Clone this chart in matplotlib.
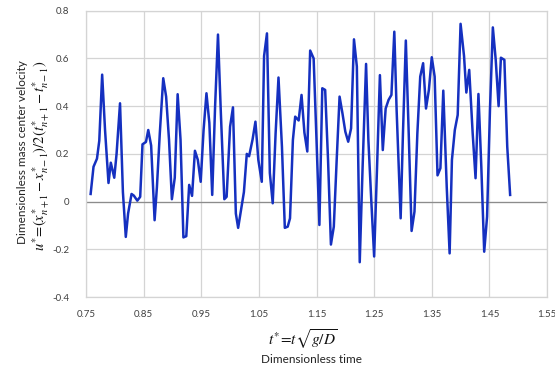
import matplotlib
matplotlib.use('Agg')
import matplotlib.pyplot as plt

plt.rcParams['font.family'] = ['Lato', 'DejaVu Sans']
plt.rcParams['mathtext.fontset'] = 'stix'

# dimensionless time t* and mass-center velocity u*
t_star = [0.758, 0.763, 0.769, 0.773, 0.778, 0.783, 0.789, 0.793, 0.799, 0.803,
          0.809, 0.814, 0.819, 0.823, 0.829, 0.833, 0.839, 0.844, 0.848, 0.854,
          0.858, 0.863, 0.869, 0.873, 0.878, 0.884, 0.889, 0.894, 0.899, 0.904,
          0.909, 0.914, 0.919, 0.924, 0.929, 0.934, 0.939, 0.944, 0.949, 0.954,
          0.959, 0.964, 0.969, 0.974, 0.979, 0.984, 0.990, 0.994, 1.000, 1.005,
          1.010, 1.014, 1.019, 1.024, 1.029, 1.033, 1.039, 1.044, 1.049, 1.055,
          1.059, 1.064, 1.069, 1.074, 1.079, 1.084, 1.090, 1.095, 1.100, 1.104,
          1.109, 1.113, 1.119, 1.124, 1.129, 1.134, 1.139, 1.145, 1.150, 1.155,
          1.160, 1.165, 1.170, 1.175, 1.180, 1.185, 1.190, 1.195, 1.200, 1.205,
          1.210, 1.215, 1.220, 1.225, 1.230, 1.236, 1.240, 1.245, 1.250, 1.255,
          1.260, 1.265, 1.270, 1.275, 1.280, 1.285, 1.289, 1.296, 1.300, 1.305,
          1.310, 1.315, 1.320, 1.325, 1.330, 1.335, 1.340, 1.345, 1.350, 1.355,
          1.360, 1.365, 1.370, 1.376, 1.381, 1.385, 1.390, 1.395, 1.400, 1.406,
          1.410, 1.415, 1.421, 1.426, 1.431, 1.436, 1.441, 1.446, 1.451, 1.456,
          1.461, 1.466, 1.470, 1.476, 1.481, 1.486]
u_star = [0.032, 0.146, 0.180, 0.255, 0.532, 0.300, 0.078, 0.163, 0.100, 0.200,
          0.412, 0.040, -0.148, -0.050, 0.032, 0.025, 0.004, 0.020, 0.240, 0.250,
          0.300, 0.235, -0.078, 0.060, 0.285, 0.517, 0.440, 0.260, 0.010, 0.100,
          0.450, 0.260, -0.150, -0.145, 0.070, 0.024, 0.213, 0.175, 0.083, 0.300,
          0.454, 0.330, 0.028, 0.400, 0.700, 0.370, 0.010, 0.020, 0.314, 0.395,
          -0.050, -0.110, -0.035, 0.040, 0.200, 0.190, 0.260, 0.335, 0.175, 0.083,
          0.610, 0.705, 0.120, -0.007, 0.286, 0.520, 0.230, -0.110, -0.105, -0.070,
          0.258, 0.356, 0.340, 0.447, 0.289, 0.210, 0.633, 0.600, 0.258, -0.098,
          0.475, 0.468, 0.175, -0.180, -0.105, 0.175, 0.440, 0.370, 0.293, 0.251,
          0.307, 0.680, 0.566, -0.254, 0.146, 0.577, 0.258, 0.007, -0.230, 0.140,
          0.530, 0.216, 0.390, 0.426, 0.447, 0.712, 0.384, -0.070, 0.286, 0.675,
          0.286, -0.123, -0.042, 0.286, 0.524, 0.580, 0.390, 0.468, 0.605, 0.524,
          0.110, 0.140, 0.465, 0.060, -0.217, 0.175, 0.300, 0.363, 0.745, 0.610,
          0.457, 0.552, 0.286, 0.098, 0.451, 0.146, -0.210, -0.063, 0.384, 0.730,
          0.594, 0.400, 0.603, 0.594, 0.230, 0.028]

x_ticks = [0.75, 0.85, 0.95, 1.05, 1.15, 1.25, 1.35, 1.45, 1.55]
y_ticks = [-0.4, -0.2, 0, 0.2, 0.4, 0.6, 0.8]
y_labels = ['-0.4', '-0.2', '0', '0.2', '0.4', '0.6', '0.8']

fig = plt.figure(figsize=(5.55, 3.69), dpi=100)
ax = fig.add_axes([0.155, 0.195, 0.8306, 0.776])

ax.plot(t_star, u_star, color='#1530c0', lw=1.8, zorder=3)

ax.set_xlim(0.75, 1.55)
ax.set_ylim(-0.4, 0.8)
ax.set_xticks(x_ticks)
ax.set_xticklabels(['%.2f' % v for v in x_ticks])
ax.set_yticks(y_ticks)
ax.set_yticklabels(y_labels)
ax.tick_params(length=0, labelsize=7, colors='#404040')
ax.tick_params(axis='x', pad=9)
ax.tick_params(axis='y', pad=12)
ax.grid(True, color='#d4d4d4', lw=0.9)
ax.axhline(0, color='#8c8c8c', lw=0.9, zorder=2)
for s in ax.spines.values():
	s.set_color('#d4d4d4')
	s.set_linewidth(0.9)

# two-line y label: words plus formula
fig.text(0.041, 0.588, 'Dimensionless mass center velocity', rotation=90,
	ha='center', va='center', fontsize=8.5, color='#222222')
fig.text(0.074, 0.578, r'$u^{*}\!=\!(x^{*}_{n+1}-x^{*}_{n-1})/2(t^{*}_{n+1}-t^{*}_{n-1})$',
	rotation=90, ha='center', va='center', fontsize=10.5, color='#111111')

# two-line x label
fig.text(0.545, 0.08, r'$t^{*}\!=\!t\sqrt{g/D}$', ha='center', va='center',
	fontsize=11, color='#111111')
fig.text(0.562, 0.025, 'Dimensionless time', ha='center', va='center',
	fontsize=8.5, color='#222222')

fig.savefig('out.png', dpi=100)
